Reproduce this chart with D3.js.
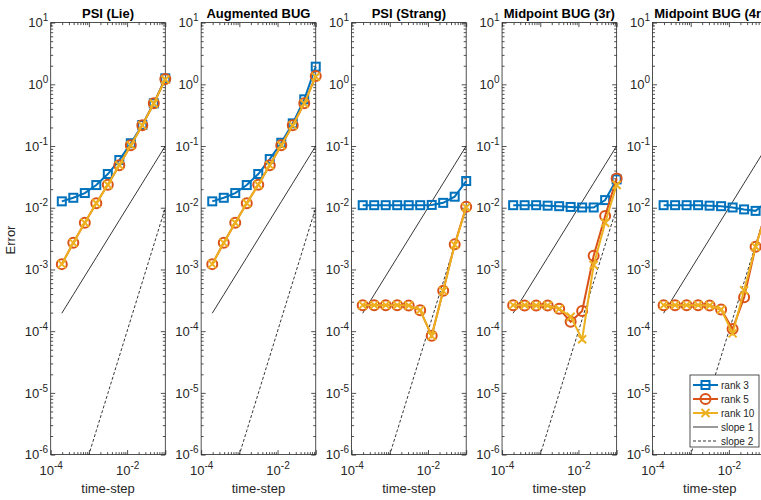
<!DOCTYPE html>
<html>
<head>
<meta charset="utf-8">
<script src="https://cdn.jsdelivr.net/npm/d3@7"></script>
<style>
  body { margin: 0; background: #fff; }
  svg { font-family: "Liberation Sans", Arial, sans-serif; }
</style>
</head>
<body>
<script>
// time-steps (0.1 / 2^k), smallest first
const steps = [1.953125e-4, 3.90625e-4, 7.8125e-4, 1.5625e-3, 3.125e-3, 6.25e-3, 1.25e-2, 2.5e-2, 5e-2, 1e-1];

const titles = ['PSI (Lie)', 'Augmented BUG', 'PSI (Strang)', 'Midpoint BUG (3r)', 'Midpoint BUG (4r)'];

const lieRank3  = [0.0127, 0.0145, 0.0173, 0.0233, 0.0352, 0.0593, 0.111, 0.219, 0.492, 1.25];
const lieRank5  = [1.22e-3, 2.71e-3, 5.7e-3, 0.0118, 0.0236, 0.0487, 0.103, 0.217, 0.492, 1.22];
const lieRank10 = [1.22e-3, 2.7e-3, 5.7e-3, 0.0118, 0.0236, 0.0487, 0.103, 0.216, 0.49, 1.2];

const augRank3  = [0.0127, 0.0145, 0.0173, 0.0233, 0.0352, 0.0615, 0.113, 0.233, 0.571, 1.93];
const augRank5  = [1.22e-3, 2.71e-3, 5.7e-3, 0.0118, 0.0236, 0.0487, 0.103, 0.217, 0.492, 1.36];
const augRank10 = [1.22e-3, 2.7e-3, 5.7e-3, 0.0118, 0.0236, 0.0487, 0.103, 0.216, 0.49, 1.33];

const strangRank3  = [0.0110, 0.0110, 0.0110, 0.0110, 0.0110, 0.0110, 0.0111, 0.0120, 0.0151, 0.0271];
const strangRank5  = [2.64e-4, 2.64e-4, 2.64e-4, 2.64e-4, 2.6e-4, 2.19e-4, 8.4e-5, 4.52e-4, 2.55e-3, 0.0104];
const strangRank10 = [2.64e-4, 2.64e-4, 2.64e-4, 2.64e-4, 2.6e-4, 2.19e-4, 8.4e-5, 4.5e-4, 2.5e-3, 0.0102];

const mid3Rank3  = [0.0110, 0.0110, 0.0110, 0.0108, 0.0106, 0.0103, 0.0101, 0.0101, 0.0133, 0.0288];
const mid3Rank5  = [2.64e-4, 2.6e-4, 2.6e-4, 2.6e-4, 2.3e-4, 1.42e-4, 2.12e-4, 1.67e-3, 7.33e-3, 0.0299];
const mid3Rank10 = [2.64e-4, 2.64e-4, 2.6e-4, 2.6e-4, 2.3e-4, 1.71e-4, 7.4e-5, 1.18e-3, 5.7e-3, 0.0233];

const mid4Rank3  = [0.0110, 0.0110, 0.0110, 0.0110, 0.0108, 0.0106, 0.0101, 0.0094, 0.0089, 0.0125];
const mid4Rank5  = [2.64e-4, 2.64e-4, 2.64e-4, 2.64e-4, 2.6e-4, 2.25e-4, 1.08e-4, 3.53e-4, 2.33e-3, 9.8e-3];
const mid4Rank10 = [2.64e-4, 2.64e-4, 2.64e-4, 2.64e-4, 2.6e-4, 2.25e-4, 9.2e-5, 4.6e-4, 2.33e-3, 9.0e-3];

const seriesNames = ['rank 3', 'rank 5', 'rank 10'];
const colors = ['#0072BD', '#D95319', '#EDB120'];
const markers = ['square', 'circle', 'cross'];

const panels = [
  [lieRank3, lieRank5, lieRank10],
  [augRank3, augRank5, augRank10],
  [strangRank3, strangRank5, strangRank10],
  [mid3Rank3, mid3Rank5, mid3Rank10],
  [mid4Rank3, mid4Rank5, mid4Rank10]
];

const W = 761, H = 500;
const left0 = 50.7, gap = 150.45, pw = 114.6;
const topY = 22.6, bottomY = 454.6, ph = bottomY - topY;
const axisColor = '#262626';

const svg = d3.select('body').append('svg')
              .attr('width', W)
              .attr('height', H);

const x = d3.scaleLog().domain([1e-4, 1e-1]).range([0, pw]);
const y = d3.scaleLog().domain([1e-6, 10]).range([ph, 0]);

const xMajor = [1e-4, 1e-3, 1e-2, 1e-1];
const yMajor = d3.range(-6, 2).map(e => Math.pow(10, e));
let xMinor = [], yMinor = [];
for (let e = -4; e < -1; e++) for (let d = 2; d < 10; d++) xMinor.push(d * Math.pow(10, e));
for (let e = -6; e < 1; e++) for (let d = 2; d < 10; d++) yMinor.push(d * Math.pow(10, e));

function powLabel(sel, show) {
  sel.selectAll('.tick text').each(function(d) {
    const e = Math.round(Math.log10(d));
    const t = d3.select(this);
    t.text(null);
    if (!show(e)) return;
    t.append('tspan').text('10');
    t.append('tspan').attr('dy', '-0.6em').attr('font-size', '10px').text(e);
  });
}

function styleAxis(g) {
  g.select('.domain').remove();
  g.selectAll('line').attr('stroke', axisColor).attr('stroke-width', 0.8);
  g.selectAll('text').attr('fill', axisColor).attr('font-size', '13px');
}

const line = d3.line().x(d => x(d[0])).y(d => y(d[1]));

function drawMarkers(g, pts, type, color) {
  pts.forEach(p => {
    if (type === 'square') {
      g.append('rect').attr('x', p[0] - 4).attr('y', p[1] - 4).attr('width', 8).attr('height', 8)
       .attr('fill', 'none').attr('stroke', color).attr('stroke-width', 2);
    } else if (type === 'circle') {
      g.append('circle').attr('cx', p[0]).attr('cy', p[1]).attr('r', 5)
       .attr('fill', 'none').attr('stroke', color).attr('stroke-width', 2);
    } else {
      g.append('path').attr('d', `M${p[0]-4},${p[1]-4}L${p[0]+4},${p[1]+4}M${p[0]-4},${p[1]+4}L${p[0]+4},${p[1]-4}`)
       .attr('stroke', color).attr('stroke-width', 2);
    }
  });
}

panels.forEach((series, i) => {
  const g = svg.append('g').attr('transform', `translate(${left0 + i * gap},${topY})`);

  const clipId = 'clip' + i;
  g.append('clipPath').attr('id', clipId)
   .append('rect').attr('width', pw).attr('height', ph);

  // minor ticks
  g.append('g').attr('transform', `translate(0,${ph})`)
   .call(d3.axisBottom(x).tickValues(xMinor).tickSizeInner(-2.5).tickSizeOuter(0).tickFormat(''))
   .call(styleAxis);
  g.append('g')
   .call(d3.axisTop(x).tickValues(xMinor).tickSizeInner(-2.5).tickSizeOuter(0).tickFormat(''))
   .call(styleAxis);
  g.append('g')
   .call(d3.axisLeft(y).tickValues(yMinor).tickSizeInner(-2.5).tickSizeOuter(0).tickFormat(''))
   .call(styleAxis);
  g.append('g').attr('transform', `translate(${pw},0)`)
   .call(d3.axisRight(y).tickValues(yMinor).tickSizeInner(-2.5).tickSizeOuter(0).tickFormat(''))
   .call(styleAxis);

  // major ticks + labels
  g.append('g').attr('transform', `translate(0,${ph})`)
   .call(d3.axisBottom(x).tickValues(xMajor).tickSizeInner(-4.5).tickSizeOuter(0).tickPadding(11))
   .call(styleAxis)
   .call(s => powLabel(s, e => e % 2 === 0));
  g.append('g')
   .call(d3.axisTop(x).tickValues(xMajor).tickSizeInner(-4.5).tickSizeOuter(0).tickFormat(''))
   .call(styleAxis);
  g.append('g')
   .call(d3.axisLeft(y).tickValues(yMajor).tickSizeInner(-4.5).tickSizeOuter(0).tickPadding(2.5))
   .call(styleAxis)
   .call(s => powLabel(s, e => true));
  g.append('g').attr('transform', `translate(${pw},0)`)
   .call(d3.axisRight(y).tickValues(yMajor).tickSizeInner(-4.5).tickSizeOuter(0).tickFormat(''))
   .call(styleAxis);

  g.append('rect').attr('width', pw).attr('height', ph)
   .attr('fill', 'none').attr('stroke', axisColor).attr('stroke-width', 0.8);

  // reference slopes
  const ref = g.append('g').attr('clip-path', `url(#${clipId})`);
  ref.append('path').datum(steps.map(s => [s, s]))
     .attr('d', line).attr('fill', 'none').attr('stroke', '#000').attr('stroke-width', 0.8);
  ref.append('path').datum(steps.map(s => [s, s * s]))
     .attr('d', line).attr('fill', 'none').attr('stroke', '#000').attr('stroke-width', 0.8)
     .attr('stroke-dasharray', '3,2');

  // data
  series.forEach((vals, j) => {
    const pts = steps.map((s, k) => [s, vals[k]]);
    const sg = g.append('g');
    sg.append('path').datum(pts).attr('d', line)
      .attr('fill', 'none').attr('stroke', colors[j]).attr('stroke-width', 2);
    drawMarkers(sg, pts.map(p => [x(p[0]), y(p[1])]), markers[j], colors[j]);
  });

  svg.append('text')
     .attr('x', left0 + i * gap + pw / 2).attr('y', 18)
     .attr('text-anchor', 'middle').attr('font-size', '13px').attr('font-weight', 'bold')
     .text(titles[i]);

  svg.append('text')
     .attr('x', left0 + i * gap + pw / 2).attr('y', 493)
     .attr('text-anchor', 'middle').attr('font-size', '13px').attr('fill', axisColor)
     .text('time-step');
});

svg.append('text')
   .attr('transform', 'translate(15,240) rotate(-90)')
   .attr('text-anchor', 'middle').attr('font-size', '13px').attr('fill', axisColor)
   .text('Error');

// legend
const lg = svg.append('g').attr('transform', 'translate(690,375)');
lg.append('rect').attr('width', 69).attr('height', 72)
  .attr('fill', '#fff').attr('stroke', axisColor).attr('stroke-width', 0.8);
const legendItems = seriesNames.map((n, j) => ({name: n, color: colors[j], marker: markers[j]}))
  .concat([{name: 'slope 1', color: '#000', dash: null}, {name: 'slope 2', color: '#000', dash: '3,2'}]);
legendItems.forEach((it, k) => {
  const yy = 10 + k * 14;
  const ln = lg.append('line').attr('x1', 3).attr('x2', 28).attr('y1', yy).attr('y2', yy)
    .attr('stroke', it.color).attr('stroke-width', it.marker ? 2 : 0.8);
  if (it.dash) ln.attr('stroke-dasharray', it.dash);
  if (it.marker) drawMarkers(lg, [[15.5, yy]], it.marker, it.color);
  lg.append('text').attr('x', 31).attr('y', yy).attr('dy', '0.35em')
    .attr('font-size', '10px').attr('fill', axisColor).text(it.name);
});
</script>
</body>
</html>
